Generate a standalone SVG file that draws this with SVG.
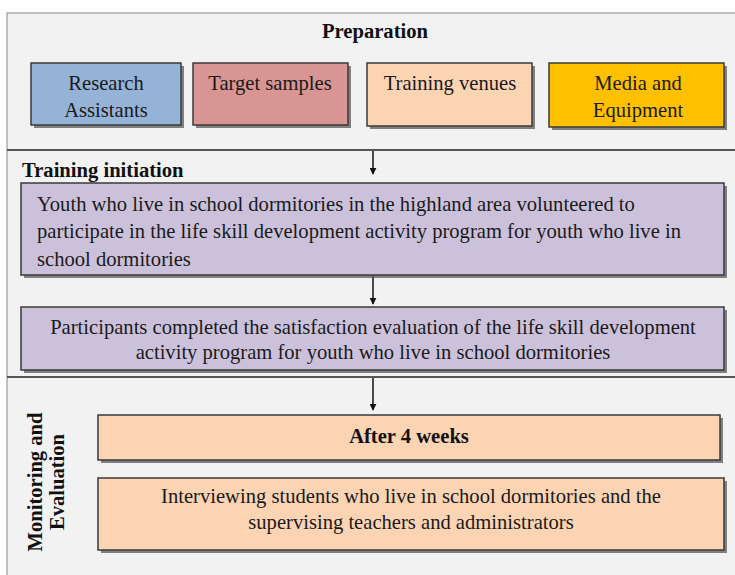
<svg xmlns="http://www.w3.org/2000/svg" width="735" height="575" viewBox="0 0 735 575">
<defs>
<style>
.t{font-family:"Liberation Serif","Times New Roman",serif;font-size:20.6px;fill:#1a1a1a}
.b{font-weight:bold;fill:#111}
.c{text-anchor:middle}
.box{stroke:#3a3a3a;stroke-width:1.5}
.sh{fill:#5a5a5a;opacity:0.75}
.div{stroke:#555;stroke-width:2}
.ar{stroke:#111;stroke-width:1.5;fill:none}
</style>
<marker id="ah" viewBox="0 0 10 10" refX="9" refY="5" markerWidth="7" markerHeight="7" markerUnits="userSpaceOnUse" orient="auto"><path d="M0,0 L10,5 L0,10 z" fill="#111"/></marker>
</defs>
<rect x="0" y="0" width="735" height="575" fill="#ffffff"/>
<rect x="7" y="13" width="740" height="570" fill="#f2f2f2" stroke="#999" stroke-width="1.2"/>
<line class="div" x1="7" y1="150" x2="735" y2="150"/>
<line class="div" x1="7" y1="377" x2="735" y2="377"/>

<text class="t b c" x="375" y="38" font-size="19.8">Preparation</text>
<text class="t b" x="22" y="177" font-size="19.8">Training initiation</text>
<text class="t b c" transform="translate(42,482) rotate(-90)" font-size="21">Monitoring and</text>
<text class="t b c" transform="translate(64,482) rotate(-90)" font-size="21">Evaluation</text>

<g id="connectors">
<line class="ar" x1="373" y1="151" x2="373" y2="174" marker-end="url(#ah)"/>
<line class="ar" x1="373" y1="276" x2="373" y2="304" marker-end="url(#ah)"/>
<line class="ar" x1="373" y1="378" x2="373" y2="410" marker-end="url(#ah)"/>
</g>

<g id="research-assistants">
<rect class="sh" x="34" y="66" width="150" height="62"/>
<rect class="box" x="31" y="63" width="150" height="62" fill="#95b3d7"/>
<text class="t c" x="106" y="90">Research</text>
<text class="t c" x="106" y="117">Assistants</text>
</g>
<g id="target-samples">
<rect class="sh" x="196" y="66" width="155" height="62"/>
<rect class="box" x="193" y="63" width="155" height="62" fill="#d99594"/>
<text class="t c" x="270" y="90">Target samples</text>
</g>
<g id="training-venues">
<rect class="sh" x="370" y="66" width="165" height="63"/>
<rect class="box" x="367" y="63" width="165" height="63" fill="#fbd4b4"/>
<text class="t c" x="450" y="90">Training venues</text>
</g>
<g id="media-equipment">
<rect class="sh" x="552" y="66" width="175" height="64"/>
<rect class="box" x="549" y="63" width="175" height="64" fill="#ffc000"/>
<text class="t c" x="638" y="90">Media and</text>
<text class="t c" x="638" y="117">Equipment</text>
</g>

<g id="volunteer">
<rect class="sh" x="24" y="186" width="703" height="92"/>
<rect class="box" x="21" y="183" width="703" height="92" fill="#ccc1da"/>
<text class="t" x="37" y="211">Youth who live in school dormitories in the highland area volunteered to</text>
<text class="t" x="37" y="238">participate in the life skill development activity program for youth who live in</text>
<text class="t" x="37" y="266">school dormitories</text>
</g>
<g id="satisfaction">
<rect class="sh" x="24" y="310" width="703" height="63"/>
<rect class="box" x="21" y="307" width="703" height="63" fill="#ccc1da"/>
<text class="t c" x="373" y="334">Participants completed the satisfaction evaluation of the life skill development</text>
<text class="t c" x="373" y="359">activity program for youth who live in school dormitories</text>
</g>

<g id="after-4-weeks">
<rect class="sh" x="101" y="418" width="622" height="45"/>
<rect class="box" x="98" y="415" width="622" height="45" fill="#fbd4b4"/>
<text class="t b c" x="409" y="443" font-size="20.4">After 4 weeks</text>
</g>
<g id="interviewing">
<rect class="sh" x="101" y="481" width="626" height="72"/>
<rect class="box" x="98" y="478" width="626" height="72" fill="#fbd4b4"/>
<text class="t c" x="411" y="503">Interviewing students who live in school dormitories and the</text>
<text class="t c" x="411" y="529">supervising teachers and administrators</text>
</g>
</svg>
